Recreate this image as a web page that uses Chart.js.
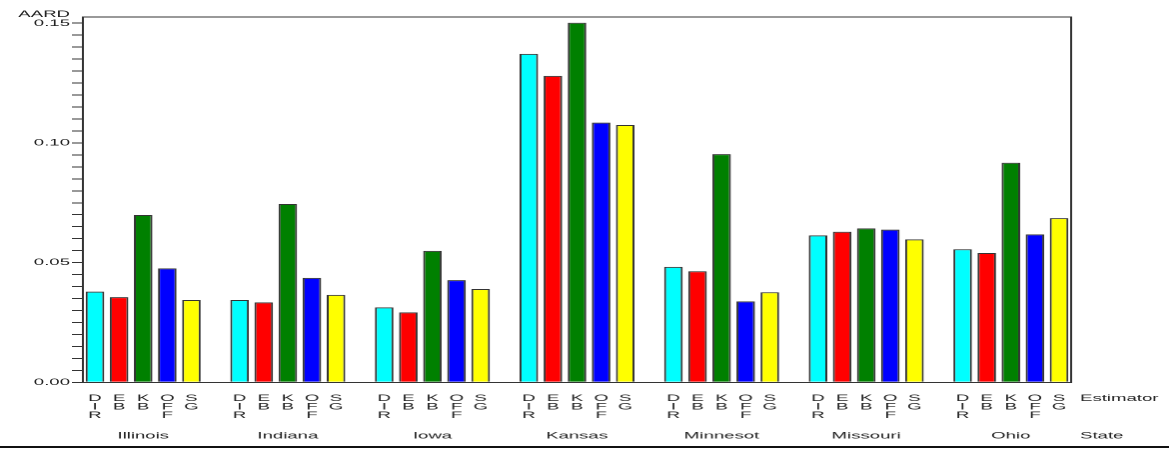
<!DOCTYPE html>
<html>
<head>
  <meta charset="UTF-8"/>
  <title>AARD by State and Estimator</title>
  <style>
    body { margin: 0; background: #fff; overflow: hidden; }
    #wrap { position: relative; width: 1169px; height: 449px; }
    /* the source picture is stretched 2x sideways, so draw at half width and stretch */
    #aardChart { display: block; transform-origin: 0 0; transform: scaleX(1.99829); }
    .rule { position: absolute; left: 0; top: 446px; width: 1169px; height: 2px; background: #111; }
  </style>
  <script src="https://cdn.jsdelivr.net/npm/chart.js"></script>
</head>
<body>
  <div id="wrap">
    <canvas id="aardChart" width="585" height="449"></canvas>
    <div class="rule"></div>
  </div>
  <script>
    // data
    const states = ['Illinois', 'Indiana', 'Iowa', 'Kansas', 'Minnesot', 'Missouri', 'Ohio'];
    const estimators = ['DIR', 'EB', 'KB', 'OFF', 'SG'];
    const dirVals = [0.0379, 0.0344, 0.0313, 0.1372, 0.0482, 0.0614, 0.0556];
    const ebVals  = [0.0356, 0.0334, 0.0292, 0.1280, 0.0464, 0.0629, 0.0540];
    const kbVals  = [0.0699, 0.0745, 0.0549, 0.1502, 0.0953, 0.0643, 0.0917];
    const offVals = [0.0476, 0.0436, 0.0427, 0.1085, 0.0338, 0.0638, 0.0618];
    const sgVals  = [0.0344, 0.0365, 0.0390, 0.1075, 0.0376, 0.0597, 0.0686];
    const yTickLabels = ['0.00', '0.05', '0.10', '0.15'];
    const yTitle = 'AARD';
    const xTitle = 'Estimator';
    const groupTitle = 'State';

    const seriesVals = [dirVals, ebVals, kbVals, offVals, sgVals];
    const barColors = ['#00ffff', '#ff0000', '#008000', '#0000ff', '#ffff00'];

    // one slot per bar, plus an empty slot between states
    const slotLabels = [];
    const stateSlots = [];
    states.forEach((s, i) => {
      if (i > 0) { slotLabels.push(''); stateSlots.push(''); }
      estimators.forEach((e, j) => {
        slotLabels.push(e.split(''));
        stateSlots.push(j === 2 ? s : '');
      });
    });
    const slotOf = (i, j) => i * (estimators.length + 1) + j;

    const datasets = estimators.map((e, j) => {
      const data = slotLabels.map(() => null);
      seriesVals[j].forEach((v, i) => { data[slotOf(i, j)] = v; });
      return {
        label: e,
        data: data,
        backgroundColor: barColors[j],
        borderColor: '#333',
        borderWidth: 1,
        grouped: false,
        categoryPercentage: 1,
        barPercentage: 0.77
      };
    });

    // minor ticks every 0.005, labels on every tenth
    const minorTicks = [];
    for (let k = 0; k <= 30; k++) minorTicks.push(k * 0.005);

    const fontFamily = '"Liberation Sans", Arial, sans-serif';
    Chart.defaults.font.family = fontFamily;
    Chart.defaults.font.size = 9.3;
    Chart.defaults.color = '#222';

    const extras = {
      id: 'extras',
      afterDraw(chart) {
        const ctx = chart.ctx;
        const a = chart.chartArea;
        ctx.save();
        ctx.strokeStyle = '#333';
        ctx.lineWidth = 1;
        ctx.beginPath();
        ctx.moveTo(a.left, a.top);
        ctx.lineTo(a.right, a.top);
        ctx.lineTo(a.right, a.bottom);
        ctx.stroke();
        ctx.font = '9.3px ' + fontFamily;
        ctx.fillStyle = '#222';
        ctx.textBaseline = 'middle';
        ctx.textAlign = 'right';
        ctx.fillText(yTitle, a.left - 6.5, 14.2);
        ctx.textAlign = 'left';
        ctx.fillText(xTitle, a.right + 4.5, chart.scales.x.top + 16.1);
        ctx.fillText(groupTitle, a.right + 4.5, chart.scales.x2.top + 13.4);
        ctx.restore();
      }
    };

    new Chart(document.getElementById('aardChart'), {
      type: 'bar',
      data: { labels: slotLabels, datasets: datasets },
      plugins: [extras],
      options: {
        responsive: false,
        devicePixelRatio: 2,
        animation: false,
        layout: { padding: { top: 17, right: 49, bottom: 0, left: 0 } },
        plugins: { legend: { display: false }, tooltip: { enabled: false } },
        scales: {
          x: {
            type: 'category',
            weight: 0,
            offset: true,
            afterFit: s => { s.height = 40; },
            grid: { display: false, drawTicks: false },
            border: { display: true, color: '#333', width: 1 },
            ticks: { autoSkip: false, maxRotation: 0, padding: 11.85, font: { lineHeight: '8.5px' } }
          },
          x2: {
            type: 'category',
            position: 'bottom',
            weight: 1,
            offset: true,
            labels: stateSlots,
            afterFit: s => { s.height = 26.7; },
            grid: { display: false, drawTicks: false },
            border: { display: false },
            ticks: { autoSkip: false, maxRotation: 0, padding: 7.8 }
          },
          y: {
            min: 0,
            max: 0.1526,
            afterFit: s => { s.width = 41.5; },
            afterBuildTicks: s => { s.ticks = minorTicks.map(v => ({ value: v })); },
            grid: { drawOnChartArea: false, tickLength: 5.5, color: '#333' },
            border: { color: '#333', width: 1 },
            ticks: {
              autoSkip: false,
              padding: 1,
              callback: (v, idx) => (idx % 10 === 0 ? yTickLabels[idx / 10] : '')
            }
          }
        }
      }
    });
  </script>
</body>
</html>
